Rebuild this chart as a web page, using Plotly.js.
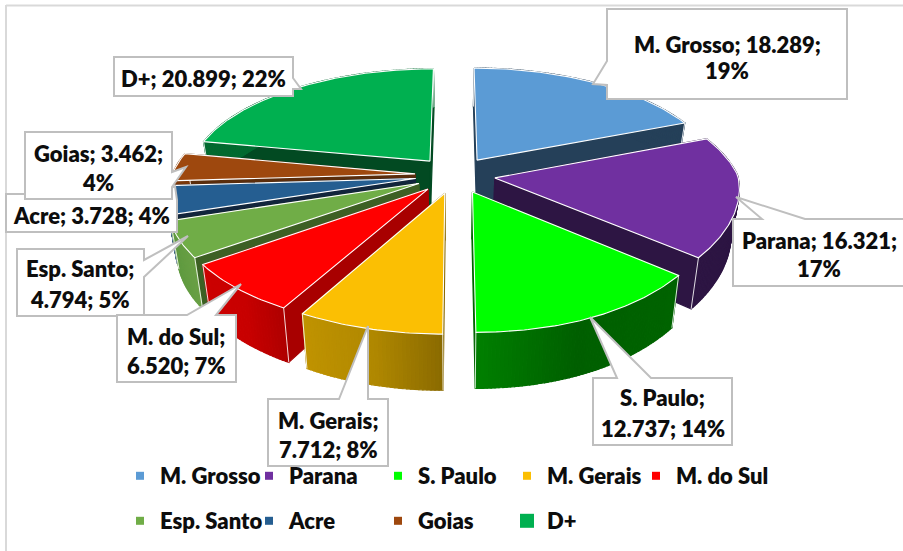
<!DOCTYPE html>
<html>
<head>
<meta charset="utf-8">
<script src="https://cdn.plot.ly/plotly-3.0.1.min.js"></script>
<style>html,body{margin:0;padding:0;background:#fff}#c{width:903px;height:551px}</style>
</head>
<body>
<div id="c"></div>
<script>
// ---- data ----
var names   = ["M. Grosso","Parana","S. Paulo","M. Gerais","M. do Sul","Esp. Santo","Acre","Goias","D+"];
var values  = [18.289,16.321,12.737,7.712,6.520,4.794,3.728,3.462,20.899];
var percents= [19,17,14,8,7,5,4,4,22];
// ---- label line breaks: number of ';' tokens on the first line ----
var firstLineTokens = [2,2,1,1,1,1,3,2,3];
// ---- colours ----
var topColors = ["#5B9BD5","#7030A0","#00FF00","#FBBF03","#FF0000","#70AD47","#255E91","#9E480E","#00B050"];
var cutColors = ["#254059","#2D1543","#006400","#8A6A00","#A80000","#3D6024","#12253C","#5A2D0C","#024A22"];
var rimStops  = [
  ["#254059","#254059"],["#2D1543","#2D1543"],["#008000","#005F00","#006400"],["#C09300","#B08800","#8A6A00"],
  ["#CC0000","#C80000","#AE0000"],["#5F9A40","#6AA045"],["#1C4870","#1C4870"],["#7A380B","#7A380B"],["#026A30","#026A30"]
];
var frameColor = "#D9D9D9", boxColor = "#BFBFBF", textColor = "#0D0D0D";
var FONT = "Lato, Carlito, sans-serif";

// ---- projection of the tilted, exploded pie (units: plot axis units) ----
var CX=455, CY=175, SX=243, SY=111.4, PERSP=0.162, EXPLODE=0.165, DEPTH=45.6, SHRINK=0.97, FRONT_RIGHT=0.068;
function proj(u,v,low){
  var s=1/(1+PERSP*v), x=SX*u*s*(1-FRONT_RIGHT*Math.max(0,u)*Math.max(0,-v)), y=CY-SY*v*s;
  if(low){ x*=SHRINK; y+=DEPTH*s; }
  return [CX+x,y];
}
function hexMix(a,b,t){
  var pa=[1,3,5].map(function(i){return parseInt(a.substr(i,2),16)});
  var pb=[1,3,5].map(function(i){return parseInt(b.substr(i,2),16)});
  return "rgb("+pa.map(function(c,i){return Math.round(c+(pb[i]-c)*t)}).join(",")+")";
}
function stopColor(st,t){
  var n=st.length-1, f=Math.min(n-1e-6,Math.max(0,t*n)), i=Math.floor(f);
  return hexMix(st[i],st[i+1],f-i);
}
function poly(pts,fill,line,w){
  return {type:"scatter",mode:"lines",x:pts.map(function(p){return p[0]}).concat([pts[0][0]]),
    y:pts.map(function(p){return p[1]}).concat([pts[0][1]]),fill:"toself",fillcolor:fill,
    line:{color:line||fill,width:w===undefined?1.2:w},hoverinfo:"skip",showlegend:false};
}
function seg(a,b,c,w){
  return {type:"scatter",mode:"lines",x:[a[0],b[0]],y:[a[1],b[1]],line:{color:c,width:w},hoverinfo:"skip",showlegend:false};
}

var shareTotal=percents.reduce(function(a,b){return a+b},0);
var slices=[], acc=0;
percents.forEach(function(p,i){
  var a0=acc/shareTotal*2*Math.PI; acc+=p;
  var a1=acc/shareTotal*2*Math.PI, mid=(a0+a1)/2;
  slices.push({i:i,a0:a0,a1:a1,ox:EXPLODE*Math.sin(mid),oy:EXPLODE*Math.cos(mid),key:Math.cos(mid)});
});

var traces=[];
var drawOrder=slices.slice().sort(function(a,b){return b.key-a.key});
drawOrder.forEach(function(sl){
  var i=sl.i, N=Math.max(8,Math.round((sl.a1-sl.a0)/0.014));
  var rim=[]; for(var k=0;k<=N;k++){var t=sl.a0+(sl.a1-sl.a0)*k/N; rim.push([sl.ox+Math.sin(t),sl.oy+Math.cos(t)]);}
  var apex=[sl.ox,sl.oy];
  var P=function(q,low){return proj(q[0],q[1],low)};
  var first=rim[0], last=rim[N];
  // radial cut walls
  traces.push(poly([P(apex),P(first),P(first,true),P(apex,true)],cutColors[i]));
  traces.push(poly([P(apex),P(last),P(last,true),P(apex,true)],cutColors[i]));
  // outer wall, shaded left to right
  var xs=rim.map(function(q){return P(q)[0]}), minX=Math.min.apply(null,xs), maxX=Math.max.apply(null,xs);
  for(var k2=0;k2<N;k2++){
    var tt=((xs[k2]+xs[k2+1])/2-minX)/Math.max(1,maxX-minX);
    traces.push(poly([P(rim[k2]),P(rim[k2+1]),P(rim[k2+1],true),P(rim[k2],true)],stopColor(rimStops[i],tt)));
  }
  traces.push(seg(P(first),P(first,true),"rgba(255,255,255,0.85)",1));
  traces.push(seg(P(last),P(last,true),"rgba(255,255,255,0.85)",1));
  // top face
  traces.push(poly([P(apex)].concat(rim.map(function(q){return P(q)})),topColors[i],"#FFFFFF",1.1));
});

// ---- legend (two separate rows) ----
names.forEach(function(n,i){
  traces.push({type:"scatter",mode:"markers",x:[null],y:[null],name:n,legend:i<5?"legend":"legend2",
    marker:{symbol:"square",size:i===8?14:8,color:topColors[i]},hoverinfo:"skip"});
});
// empty last entry: keeps the first legend row wide enough for the end of "M. do Sul"
traces.push({type:"scatter",mode:"markers",x:[null],y:[null],name:"\u00a0",legend:"legend",
  marker:{symbol:"square",size:1,color:"rgba(0,0,0,0)"},hoverinfo:"skip"});
var legendBase={orientation:"h",xanchor:"left",yanchor:"middle",entrywidth:84,entrywidthmode:"pixels",
  itemsizing:"trace",itemclick:false,itemdoubleclick:false,bgcolor:"rgba(0,0,0,0)",traceorder:"normal",
  font:{family:FONT,size:22,color:textColor,weight:800}};
var legend1=Object.assign({},legendBase,{x:120/903,y:1-476/551});
var legend2=Object.assign({},legendBase,{x:120/903,y:1-521/551});

// ---- callouts: outline in axis units, label centre and line rows ----
var callouts=[
 {i:5,path:[[17,249],[144,249],[144,260],[188,236],[144,277],[144,316],[17,316]],cx:80,rows:[268,299]},
 {i:6,path:[[6,194],[160,194],[175,186],[177,200],[177,232],[6,232]],cx:91,rows:[215]},
 {i:7,path:[[25,132],[172,132],[172,172],[186,167],[172,187],[172,199],[25,199]],cx:98,rows:[153,182]},
 {i:8,path:[[114,57],[293,57],[293,78],[301,89],[293,89],[293,96],[114,96]],cx:203,rows:[78]},
 {i:0,path:[[607,9],[847,9],[847,99],[607,99],[607,85],[593,84],[607,61]],cx:727,rows:[44,70]},
 {i:1,path:[[733,219],[762,219],[736,197],[805,219],[906,219],[906,286],[733,286]],cx:819,rows:[240,268]},
 {i:2,path:[[593,378],[617,378],[590,317],[651,378],[732,378],[732,445],[593,445]],cx:662.5,rows:[397,428]},
 {i:3,path:[[268,399],[339,399],[368,326],[368,399],[388,399],[388,466],[268,466]],cx:328,rows:[420,449]},
 {i:4,path:[[117,315],[187,315],[241,284],[216,315],[236,315],[236,382],[117,382]],cx:176,rows:[336,365]}
];
function labelTokens(i){
  return [names[i]+";",values[i].toFixed(3)+";",percents[i]+"%"];
}
var shapes=[
 {type:"line",xref:"x",yref:"y",x0:6,y0:5.5,x1:903,y1:5.5,line:{color:frameColor,width:2},layer:"below"},
 {type:"line",xref:"x",yref:"y",x0:6,y0:5,x1:6,y1:551,line:{color:frameColor,width:2},layer:"below"}
];
var annotations=[];
callouts.forEach(function(c){
  var d=c.path.map(function(p,k){return (k?"L":"M")+p[0]+","+p[1]}).join(" ")+" Z";
  shapes.push({type:"path",xref:"x",yref:"y",path:d,fillcolor:"#FFFFFF",line:{color:boxColor,width:2},layer:"above"});
  var tk=labelTokens(c.i), n=firstLineTokens[c.i];
  var lines=[tk.slice(0,n).join(" ")]; if(n<3) lines.push(tk.slice(n).join(" "));
  lines.forEach(function(txt,k){
    annotations.push({xref:"x",yref:"y",x:c.cx,y:c.rows[k],text:txt,showarrow:false,xanchor:"center",yanchor:"middle",
      font:{family:FONT,size:22,color:textColor,weight:800}});
  });
});

Plotly.newPlot("c",traces,{
  width:903,height:551,margin:{l:0,r:0,t:0,b:0},paper_bgcolor:"#FFFFFF",plot_bgcolor:"#FFFFFF",
  xaxis:{range:[0,903],visible:false,fixedrange:true},
  yaxis:{range:[551,0],visible:false,fixedrange:true},
  showlegend:true,legend:legend1,legend2:legend2,shapes:shapes,annotations:annotations,hovermode:false
},{displayModeBar:false,staticPlot:true});
</script>
</body>
</html>
